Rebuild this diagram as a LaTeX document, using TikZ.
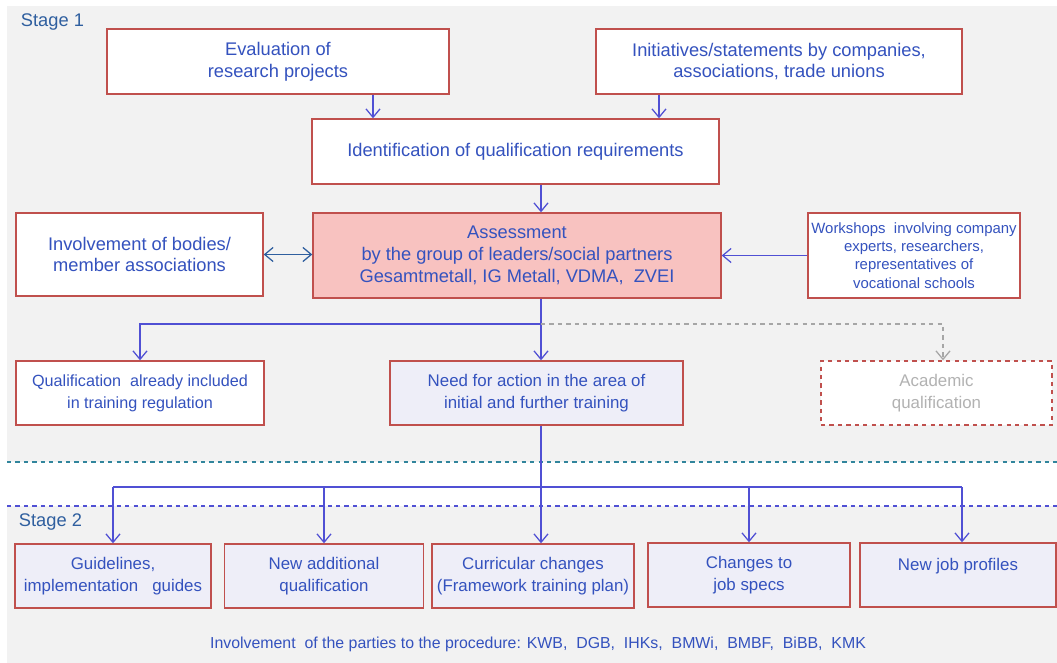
\documentclass[tikz,border=0pt]{standalone}
\usepackage{fontspec}
\setmainfont{Liberation Sans}
\usetikzlibrary{arrows.meta}
\definecolor{bgray}{HTML}{F2F2F2}
\definecolor{boxred}{HTML}{C0504D}
\definecolor{txtblue}{HTML}{3452BE}
\definecolor{arrblue}{HTML}{5050D4}
\definecolor{darkblue}{HTML}{2F5F9F}
\definecolor{pinkfill}{HTML}{F8C2C0}
\definecolor{lavfill}{HTML}{EEEEF8}
\definecolor{tealline}{HTML}{31859C}
\newlength\pxu
\setlength\pxu{0.025cm}
\begin{document}
\begin{tikzpicture}[x=\pxu,y=-\pxu,
    box/.style={draw=boxred,line width=1pt,fill=white,align=center,
        text=txtblue,inner sep=0pt,font=\fontsize{13}{15.5}\selectfont},
    lowbox/.style={box,fill=lavfill,font=\fontsize{12}{15.5}\selectfont},
    barb/.tip={Straight Barb[length=6pt,width=10pt]},
    arr/.style={draw=arrblue,line width=0.9pt,-barb},
    link/.style={draw=arrblue,line width=0.9pt},
    stagelabel/.style={anchor=west,text=darkblue,font=\fontsize{13}{15}\selectfont}]
    \useasboundingbox (0,0) rectangle (1057,663);
    % backgrounds of the two stages
    \fill[bgray] (7,6) rectangle (1057,462);
    \fill[bgray] (7,506) rectangle (1057,663);
    \draw[tealline,dashed,line width=0.8pt] (7,462) -- (1057,462);
    \draw[arrblue,dashed,line width=0.8pt] (7,506) -- (1057,506);
    \node[stagelabel] (st1) at (16,22) {Stage 1};
    \node[stagelabel] (st2) at (14,522) {Stage 2};
    % stage 1
    \node[box,minimum width=342\pxu,minimum height=65\pxu] (eval) at (278,61.5)
        {Evaluation of\\research projects};
    \node[box,minimum width=366\pxu,minimum height=65\pxu] (init) at (779,61.5)
        {Initiatives/statements by companies,\\associations, trade unions};
    \node[box,minimum width=407\pxu,minimum height=65\pxu] (ident) at (515.5,151.5)
        {Identification of qualification requirements};
    \node[box,fill=pinkfill,minimum width=408\pxu,minimum height=85\pxu] (assess) at (517,255.5)
        {Assessment\\by the group of leaders/social partners\\Gesamtmetall, IG Metall, VDMA,~~ZVEI};
    \node[box,minimum width=247\pxu,minimum height=83\pxu] (involve) at (139.5,254.5)
        {Involvement of bodies/\\member associations};
    \node[box,minimum width=212\pxu,minimum height=85\pxu,
        font=\fontsize{10.6}{13}\selectfont] (workshop) at (914,255.5)
        {Workshops~~involving company\\experts, researchers,\\representatives of\\vocational schools};
    \node[box,minimum width=248\pxu,minimum height=64\pxu,
        font=\fontsize{11.5}{15.5}\selectfont] (qual) at (140,393)
        {Qualification~~already included\\in training regulation};
    \node[lowbox,minimum width=293\pxu,minimum height=64\pxu] (need) at (536.5,393)
        {Need for action in the area of\\initial and further training};
    \node[box,dashed,text=gray!60,minimum width=231\pxu,minimum height=64\pxu,
        font=\fontsize{12}{15.5}\selectfont] (acad) at (936.5,393)
        {Academic\\qualification};
    % stage 2
    \node[lowbox,minimum width=196\pxu,minimum height=64\pxu] (guide) at (113,576)
        {Guidelines,\\implementation~~~guides};
    \node[lowbox,minimum width=199\pxu,minimum height=64\pxu] (newadd) at (324,576)
        {New additional\\qualification};
    \node[lowbox,minimum width=202\pxu,minimum height=64\pxu] (curr) at (533,576)
        {Curricular changes\\(Framework training plan)};
    \node[lowbox,minimum width=202\pxu,minimum height=64\pxu] (chg) at (749,575)
        {Changes to\\job specs};
    \node[lowbox,minimum width=196\pxu,minimum height=64\pxu] (job) at (958,575)
        {New job profiles\\\mbox{}};
    \node[text=txtblue,font=\fontsize{11.3}{13}\selectfont] (parties) at (538,644)
        {Involvement~ of the parties to the procedure: KWB,~ DGB,~ IHKs,~ BMWi,~~BMBF,~~BiBB,~~KMK};
    % connectors
    \draw[arr] (eval.south -| 373,0) -- (ident.north -| 373,0);
    \draw[arr] (init.south -| 659,0) -- (ident.north -| 659,0);
    \draw[arr] (ident.south -| 541,0) -- (assess.north -| 541,0);
    \draw[draw=darkblue,line width=0.9pt,barb-barb]
        (involve.east) -- (assess.west |- involve.east);
    \draw[arr] (workshop.west) -- (assess.east |- workshop.west);
    \coordinate (split) at (541,324);
    \draw[arr] (assess.south -| split) -- (need.north -| split);
    \draw[arr] (split) -| (qual.north);
    \draw[gray!70,dashed,line width=0.9pt,-barb]
        (split) -| (acad.north -| 943,0);
    \coordinate (bar) at (541,487);
    \draw[arr] (need.south -| bar) -- (curr.north -| bar);
    \draw[link] (guide.north |- bar) -- (962,487);
    \foreach \n in {guide,newadd,chg}
        \draw[arr] (\n.north |- bar) -- (\n.north);
    \draw[arr] (962,487) -- (job.north -| 962,0);
\end{tikzpicture}
\end{document}
